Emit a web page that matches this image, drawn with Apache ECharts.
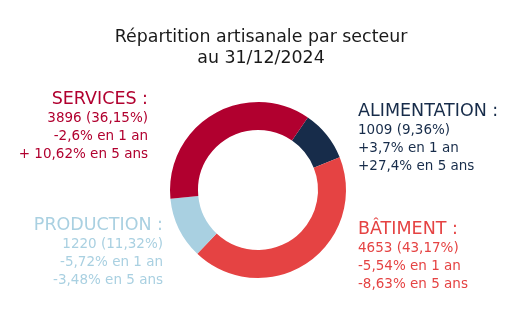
<!DOCTYPE html>
<html><head><meta charset="utf-8">
<script src="https://cdn.jsdelivr.net/npm/echarts@6/dist/echarts.min.js"></script>
<style>html,body{margin:0;padding:0;background:#fff}#c{width:510px;height:322px}</style>
</head><body><div id="c"></div>
<script>
const titleLines = ['Répartition artisanale par secteur', 'au 31/12/2024'];
const sectors = ['ALIMENTATION', 'BÂTIMENT', 'PRODUCTION', 'SERVICES'];
const counts = [1009, 4653, 1220, 3896];
const shares = ['9,36%', '43,17%', '11,32%', '36,15%'];
const change1y = ['+3,7%', '-5,54%', '-5,72%', '-2,6%'];
const change5y = ['+27,4%', '-8,63%', '-3,48%', '+ 10,62%'];
const colors = ['#172c4a', '#e54343', '#a9d0e1', '#b1002f'];

const FONT = '"DejaVu Sans", sans-serif';
const blocks = [
  {x: 358, y: 111, align: 'left'},
  {x: 358, y: 229, align: 'left'},
  {x: 163, y: 225, align: 'right'},
  {x: 148, y: 99, align: 'right'}
];
const graphics = [];
sectors.forEach((s, i) => {
  const lines = [s + ' :', counts[i] + ' (' + shares[i] + ')', change1y[i] + ' en 1 an', change5y[i] + ' en 5 ans'];
  const b = blocks[i];
  lines.forEach((t, j) => {
    graphics.push({
      type: 'text', x: b.x, y: b.y + (j === 0 ? 0 : 1 + j * 18.3),
      style: {text: t, fill: colors[i], align: b.align, verticalAlign: 'middle',
        font: (j === 0 ? '17.5px ' : '13.5px ') + FONT}
    });
  });
});
titleLines.forEach((t, j) => {
  graphics.push({type: 'text', x: 261, y: 37 + j * 21,
    style: {text: t, fill: '#1a1a1a', align: 'center', verticalAlign: 'middle', font: '17.4px ' + FONT}});
});

const chart = echarts.init(document.getElementById('c'));
chart.setOption({
  animation: false,
  graphic: graphics,
  series: [{
    type: 'pie', center: [258, 190], radius: [60, 88], startAngle: 55.5, clockwise: true,
    label: {show: false}, labelLine: {show: false}, silent: true,
    data: sectors.map((s, i) => ({name: s, value: counts[i], itemStyle: {color: colors[i]}}))
  }]
});
</script></body></html>
